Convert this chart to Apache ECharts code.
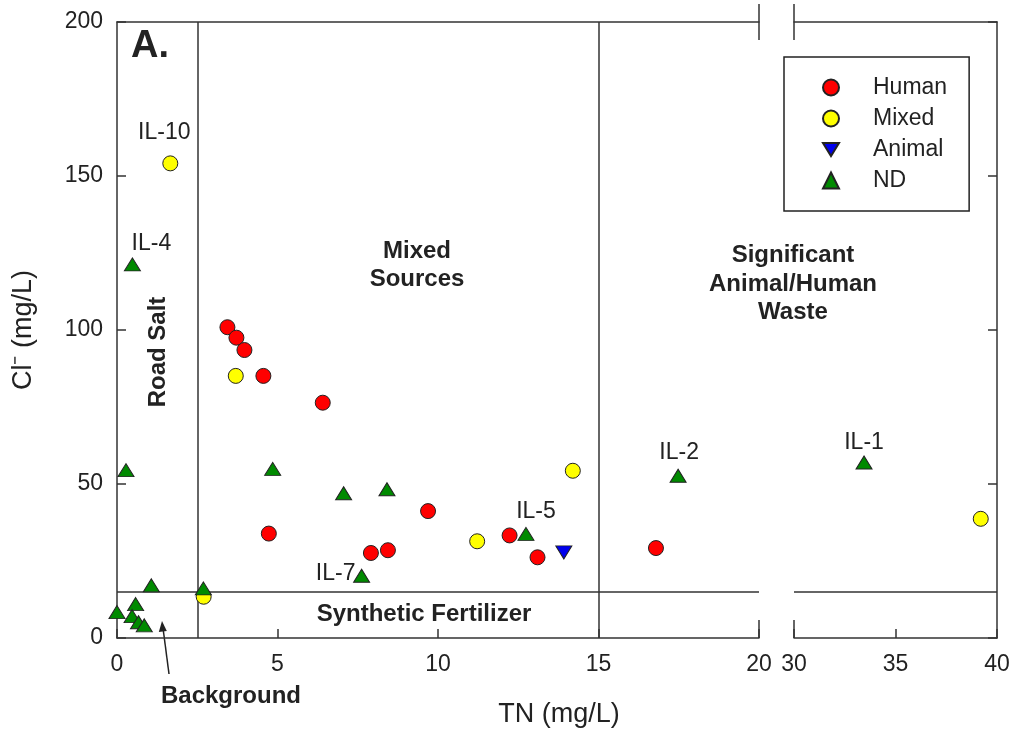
<!DOCTYPE html>
<html>
<head>
<meta charset="utf-8">
<script src="https://cdn.jsdelivr.net/npm/echarts@6/dist/echarts.min.js"></script>
<style>
  html, body { margin: 0; padding: 0; background: #fff; }
  #main { width: 1013px; height: 738px; }
</style>
</head>
<body>
<div id="main"></div>
<script>
// values: TN (mg/L) against Cl- (mg/L)
var humanTN = [3.44, 3.72, 3.97, 4.56, 6.41, 4.73, 9.69, 7.91, 8.44, 12.23, 13.10, 16.79];
var humanCl = [100.9, 97.5, 93.5, 85.1, 76.4, 33.9, 41.2, 27.6, 28.5, 33.3, 26.2, 29.2];

var mixedTN = [1.66, 3.70, 2.70, 11.22, 14.20, 39.20];
var mixedCl = [154.1, 85.1, 13.4, 31.4, 54.3, 38.7];
var mixedSite = ['IL-10', '', '', '', '', ''];

var animalTN = [13.92];
var animalCl = [27.8];

var ndTN = [0.48, 0.28, 4.85, 7.06, 8.41, 12.74, 7.62, 1.07, 2.69, 0.00, 0.58, 0.47, 0.67, 0.85, 17.48, 33.45];
var ndCl = [121.3, 54.5, 54.9, 47.0, 48.3, 33.8, 20.2, 17.1, 16.1, 8.4, 11.0, 7.1, 5.1, 4.1, 52.7, 57.0];
var ndSite = ['IL-4', '', '', '', '', 'IL-5', 'IL-7', '', '', '', '', '', '', '', 'IL-2', 'IL-1'];

// region limits
var boundaryTN = [2.5, 15];
var boundaryCl = 15;

// broken x axis: 0-20 then 30-40
var xLeft = [0, 20];
var xRight = [30, 40];
var yRange = [0, 200];

// label placement (pixels from the point)
var siteOffset = {
    'IL-10': [-6, -31],
    'IL-4': [19, -21],
    'IL-7': [-26, -2],
    'IL-5': [10, -22],
    'IL-2': [1, -23],
    'IL-1': [0, -20]
};

var FONT = "'Liberation Sans', Arial, sans-serif";
var INK = '#222';
var LINE = '#333';

var chart = echarts.init(document.getElementById('main'));

// pick the points that belong to one half of the broken axis
function half(xs, ys, sites, right) {
    var out = [];
    for (var i = 0; i < xs.length; i++) {
        if ((xs[i] > 20) !== right) continue;
        var item = {value: [xs[i], ys[i]]};
        if (sites && sites[i]) {
            item.label = {
                show: true, formatter: sites[i], position: 'inside',
                offset: siteOffset[sites[i]],
                fontSize: 23, color: INK, fontFamily: FONT
            };
        }
        out.push(item);
    }
    return out;
}

function scatter(name, data, right, symbol, size, color) {
    return {
        name: name,
        type: 'scatter',
        xAxisIndex: right ? 2 : 0,
        yAxisIndex: right ? 1 : 0,
        symbol: symbol,
        symbolSize: size,
        itemStyle: {color: color, borderColor: INK, borderWidth: 1, opacity: 1},
        emphasis: {disabled: true},
        data: data,
        z: 5
    };
}

var regionLines = {
    silent: true,
    symbol: 'none',
    label: {show: false},
    lineStyle: {color: LINE, width: 1.5, type: 'solid'},
    emphasis: {disabled: true},
    data: [{xAxis: boundaryTN[0]}, {xAxis: boundaryTN[1]}, {yAxis: boundaryCl}]
};
var regionLinesRight = {
    silent: true,
    symbol: 'none',
    label: {show: false},
    lineStyle: {color: LINE, width: 1.5, type: 'solid'},
    emphasis: {disabled: true},
    data: [{yAxis: boundaryCl}]
};

var downTri = 'path://M0,0L16,0L8,13Z';

var series = [
    scatter('Human', half(humanTN, humanCl, null, false), false, 'circle', 15, '#ff0000'),
    scatter('Mixed', half(mixedTN, mixedCl, mixedSite, false), false, 'circle', 15, '#ffff00'),
    scatter('Mixed', half(mixedTN, mixedCl, mixedSite, true), true, 'circle', 15, '#ffff00'),
    scatter('Animal', half(animalTN, animalCl, null, false), false, downTri, [16, 13], '#0000ee'),
    scatter('ND', half(ndTN, ndCl, ndSite, false), false, 'triangle', [16, 13], '#008a00'),
    scatter('ND', half(ndTN, ndCl, ndSite, true), true, 'triangle', [16, 13], '#008a00')
];
series[0].markLine = regionLines;
series[5].markLine = regionLinesRight;

function xBottom(grid, range) {
    return {
        type: 'value', gridIndex: grid, position: 'bottom',
        min: range[0], max: range[1], interval: 5,
        axisLine: {show: true, onZero: false, lineStyle: {color: LINE, width: 1.5}},
        axisTick: {show: true, inside: true, length: 9, lineStyle: {color: LINE, width: 1.5}},
        axisLabel: {show: true, fontSize: 23, color: INK, fontFamily: FONT, margin: 15},
        splitLine: {show: false}
    };
}
function xTop(grid, range) {
    return {
        type: 'value', gridIndex: grid, position: 'top',
        min: range[0], max: range[1],
        axisLine: {show: true, onZero: false, lineStyle: {color: LINE, width: 1.5}},
        axisTick: {show: false},
        axisLabel: {show: false},
        splitLine: {show: false}
    };
}

var option = {
    animation: false,
    backgroundColor: '#fff',
    textStyle: {fontFamily: FONT},
    grid: [
        {left: 117, top: 22, width: 642, height: 616},
        {left: 794, top: 22, width: 203, height: 616}
    ],
    xAxis: [
        xBottom(0, xLeft),
        xTop(0, xLeft),
        xBottom(1, xRight),
        xTop(1, xRight)
    ],
    yAxis: [
        {
            type: 'value', gridIndex: 0, position: 'left',
            min: yRange[0], max: yRange[1], interval: 50,
            axisLine: {show: true, onZero: false, lineStyle: {color: LINE, width: 1.5}},
            axisTick: {show: true, inside: true, length: 9, lineStyle: {color: LINE, width: 1.5}},
            axisLabel: {show: true, fontSize: 23, color: INK, fontFamily: FONT, margin: 14},
            splitLine: {show: false}
        },
        {
            type: 'value', gridIndex: 1, position: 'right',
            min: yRange[0], max: yRange[1], interval: 50,
            axisLine: {show: true, onZero: false, lineStyle: {color: LINE, width: 1.5}},
            axisTick: {show: true, inside: true, length: 9, lineStyle: {color: LINE, width: 1.5}},
            axisLabel: {show: false},
            splitLine: {show: false}
        }
    ],
    legend: {
        data: ['Human', 'Mixed', 'Animal', 'ND'],
        orient: 'vertical',
        left: 784, top: 57,
        padding: [19, 22, 19, 38],
        itemWidth: 16, itemHeight: 16, itemGap: 8,
        borderColor: INK, borderWidth: 1.5,
        selectedMode: false,
        textStyle: {fontSize: 23, color: INK, fontFamily: FONT, padding: [0, 0, 0, 29]}
    },
    graphic: [
        // axis breaks
        {type: 'line', shape: {x1: 759, y1: 4, x2: 759, y2: 40}, style: {stroke: LINE, lineWidth: 1.5}},
        {type: 'line', shape: {x1: 794, y1: 4, x2: 794, y2: 40}, style: {stroke: LINE, lineWidth: 1.5}},
        {type: 'line', shape: {x1: 759, y1: 620, x2: 759, y2: 638}, style: {stroke: LINE, lineWidth: 1.5}},
        {type: 'line', shape: {x1: 794, y1: 620, x2: 794, y2: 638}, style: {stroke: LINE, lineWidth: 1.5}},
        // axis titles
        {type: 'text', x: 559, y: 715, style: {text: 'TN (mg/L)', fontSize: 27, fill: INK, font: '27px ' + FONT, textAlign: 'center', textVerticalAlign: 'middle'}},
        {type: 'text', x: 24, y: 330, rotation: Math.PI / 2, style: {text: 'Cl\u207B (mg/L)', font: '27px ' + FONT, fill: INK, textAlign: 'center', textVerticalAlign: 'middle'}},
        // panel letter and region names
        {type: 'text', x: 131, y: 47, style: {text: 'A.', font: 'bold 38px ' + FONT, fill: INK, textAlign: 'left', textVerticalAlign: 'middle'}},
        {type: 'text', x: 158, y: 352, rotation: Math.PI / 2, style: {text: 'Road Salt', font: 'bold 24px ' + FONT, fill: INK, textAlign: 'center', textVerticalAlign: 'middle'}},
        {type: 'text', x: 417, y: 265, style: {text: 'Mixed\nSources', font: 'bold 24px ' + FONT, lineHeight: 28, fill: INK, textAlign: 'center', textVerticalAlign: 'middle'}},
        {type: 'text', x: 793, y: 284, style: {text: 'Significant\nAnimal/Human\nWaste', font: 'bold 24px ' + FONT, lineHeight: 28.5, fill: INK, textAlign: 'center', textVerticalAlign: 'middle'}},
        {type: 'text', x: 424, y: 614, style: {text: 'Synthetic Fertilizer', font: 'bold 24px ' + FONT, fill: INK, textAlign: 'center', textVerticalAlign: 'middle'}},
        {type: 'text', x: 231, y: 696, style: {text: 'Background', font: 'bold 24px ' + FONT, fill: INK, textAlign: 'center', textVerticalAlign: 'middle'}},
        // arrow to the background samples
        {type: 'line', shape: {x1: 169, y1: 674, x2: 163, y2: 628}, style: {stroke: INK, lineWidth: 1.5}},
        {type: 'polygon', shape: {points: [[162, 621], [166.8, 631], [158.8, 632]]}, style: {fill: INK}}
    ],
    series: series
};

chart.setOption(option);
</script>
</body>
</html>
